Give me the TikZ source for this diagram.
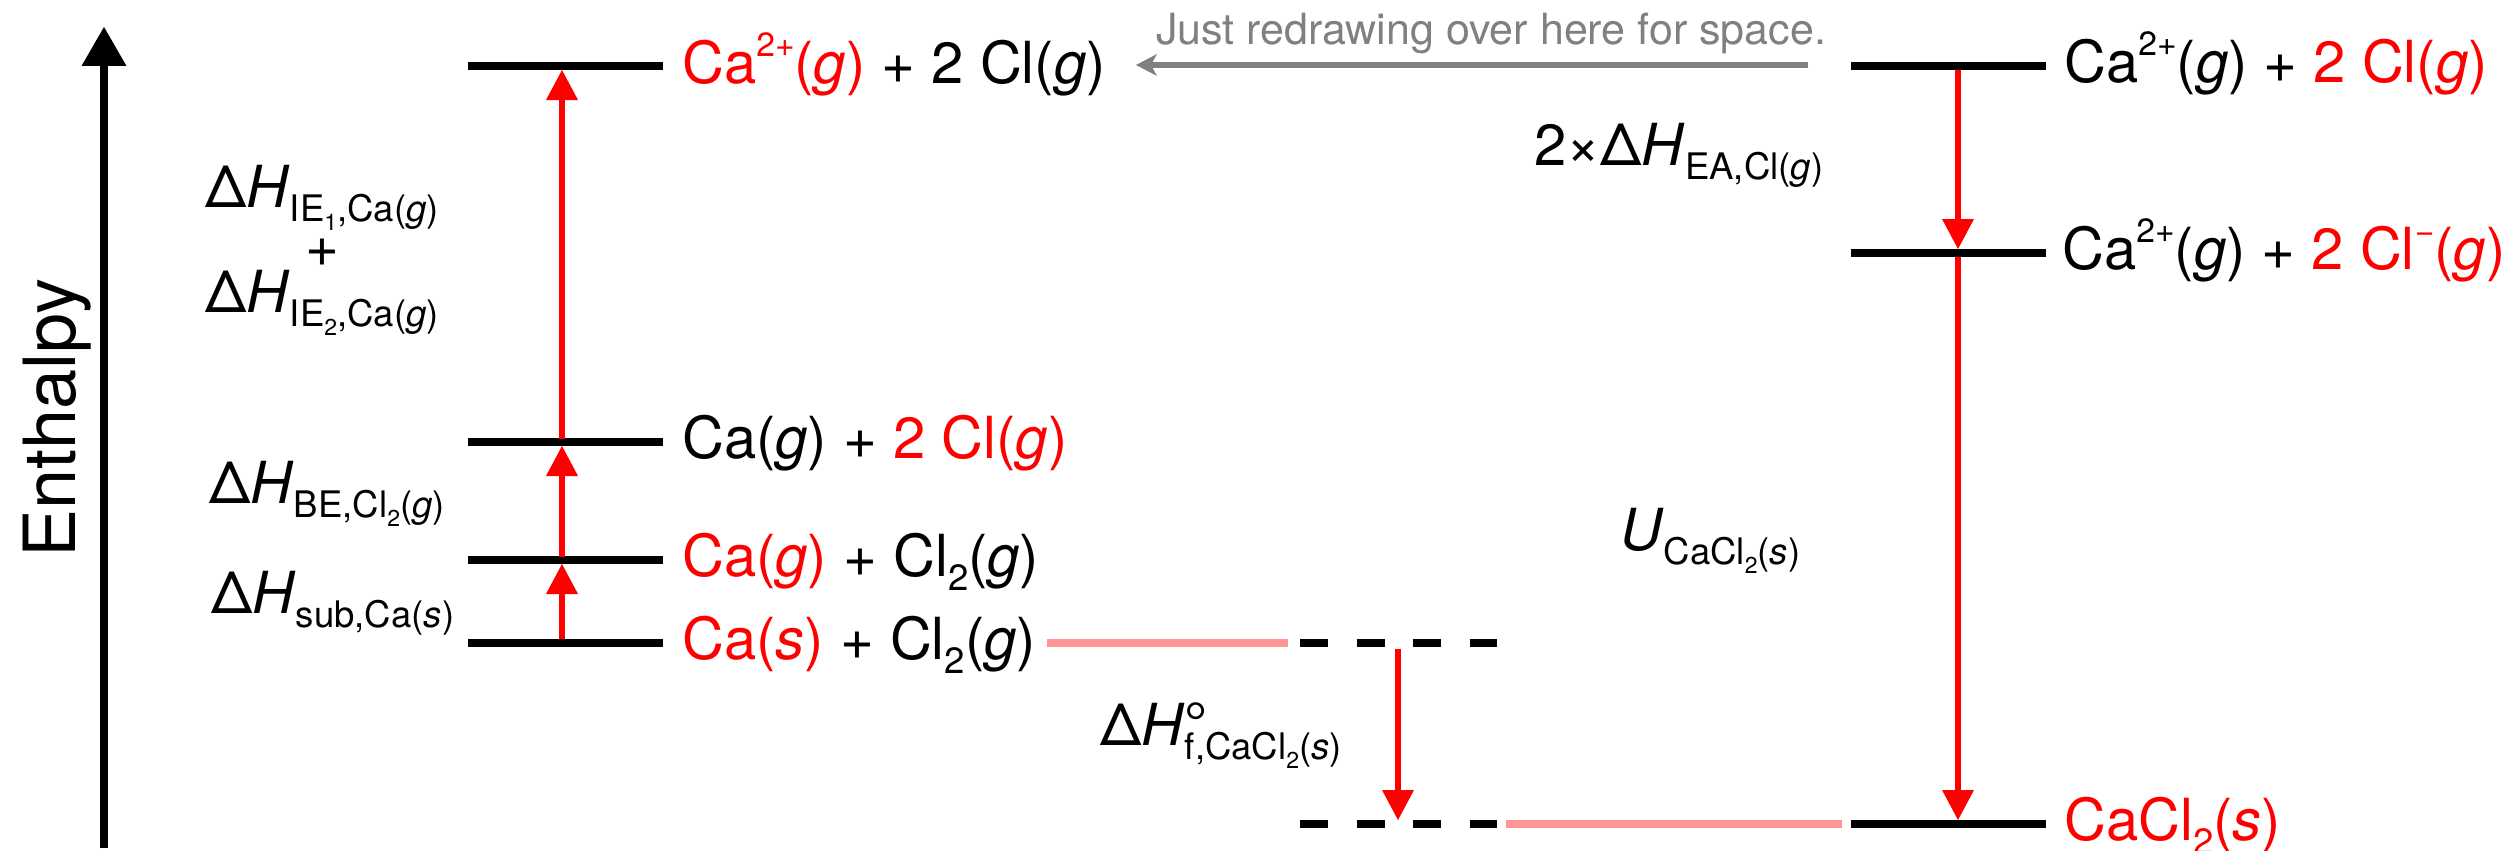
\documentclass[tikz,border=0pt]{standalone}
\usepackage{fontspec}
\setmainfont{TeX Gyre Heros}
\usepackage{graphicx}
\usetikzlibrary{arrows.meta}
\definecolor{pinkline}{RGB}{255,150,150}
\definecolor{grayarrow}{RGB}{128,128,128}
\definecolor{chemred}{RGB}{255,0,0}
\newcommand{\Sp}[1]{\raisebox{0.45em}{\scalebox{0.58}{#1}}}
\newcommand{\Sb}[1]{\raisebox{-0.25em}{\scalebox{0.63}{#1}}}
\newcommand{\R}[1]{\textcolor{chemred}{#1}}
\newcommand{\gi}{\textit{g}}
\begin{document}
\begin{tikzpicture}[x=1pt,y=-1pt,
  lvl/.style={line width=8pt},
  pinklvl/.style={line width=8pt, draw=pinkline},
  dashlvl/.style={line width=8pt, dash pattern=on 28pt off 28.5pt},
  rarrow/.style={draw=chemred, line width=5.5pt, -{Triangle[length=30pt,width=32pt,line width=0pt]}},
  lbl/.style={anchor=base west, inner sep=0pt, font=\fontsize{58}{60}\selectfont},
  graytext/.style={anchor=base west, inner sep=0pt, text=grayarrow, font=\fontsize{43}{45}\selectfont}]
\useasboundingbox (0,0) rectangle (2519,851);

% axis
\coordinate (axB) at (104,848);
\coordinate (axT) at (104,27);
\draw[line width=8pt,-{Triangle[length=39pt,width=45pt,line width=0pt]}] (axB) -- (axT);
\node[anchor=base, inner sep=0pt, rotate=90, font=\fontsize{72}{74}\selectfont] (enth) at (75,418) {Enthalpy};

% left levels
\draw[lvl] (468,66) -- (663,66);
\draw[lvl] (468,442) -- (663,442);
\draw[lvl] (468,560) -- (663,560);
\draw[lvl] (468,643) -- (663,643);

% right levels
\draw[lvl] (1851,66) -- (2046,66);
\draw[lvl] (1851,253) -- (2046,253);
\draw[lvl] (1851,824) -- (2046,824);

% pink and dashed
\draw[pinklvl] (1047,643) -- (1288,643);
\draw[dashlvl] (1300,643) -- (1497,643);
\draw[dashlvl] (1300,824) -- (1497,824);
\draw[pinklvl] (1506,824) -- (1842,824);

% arrow coordinates
\coordinate (s0) at (562,639);
\coordinate (s1) at (562,564);
\coordinate (b0) at (562,557);
\coordinate (b1) at (562,446);
\coordinate (i0) at (562,439);
\coordinate (i1) at (562,70);
\coordinate (e0) at (1958,70);
\coordinate (e1) at (1958,249);
\coordinate (u0) at (1958,257);
\coordinate (u1) at (1958,820);
\coordinate (f0) at (1398,649);
\coordinate (f1) at (1398,820);
\draw[rarrow] (s0) -- (s1);
\draw[rarrow] (b0) -- (b1);
\draw[rarrow] (i0) -- (i1);
\draw[rarrow] (e0) -- (e1);
\draw[rarrow] (u0) -- (u1);
\draw[rarrow] (f0) -- (f1);

% gray arrow
\coordinate (g0) at (1808,65);
\coordinate (g1) at (1136,65);
\draw[draw=grayarrow, line width=6pt, -{Stealth[length=21pt,width=22pt,inset=6pt,line width=0pt]}] (g0) -- (g1);
\node[graytext] (note) at (1156,45) {Just redrawing over here for space.};

% level labels
\node[lbl] (lt) at (682,83) {\R{Ca\Sp{2+}(\gi)} + 2 Cl(\gi)};
\node[lbl] (l2) at (682,458) {Ca(\gi) + \R{2 Cl(\gi)}};
\node[lbl] (l3) at (682,576) {\R{Ca(\gi)} + Cl\Sb{2}(\gi)};
\node[lbl] (l4) at (682,659) {\R{Ca(\textit{s})} + Cl\Sb{2}(\gi)};
\node[lbl] (rt) at (2064,82) {Ca\Sp{2+}(\gi) + \R{2 Cl(\gi)}};
\node[lbl] (r2) at (2062,269) {Ca\Sp{2+}(\gi) + \R{2 Cl\Sp{−}(\gi)}};
\node[lbl] (rb) at (2064,840) {\R{CaCl\Sb{2}(\textit{s})}};

% enthalpy change labels
\node[lbl] (ie1) at (205,207) {Δ\textit{H}\Sb{IE\Sb{1},Ca(\gi)}};
\node[anchor=center, inner sep=0pt, font=\fontsize{58}{60}\selectfont] (iep) at (322,253) {+};
\node[lbl] (ie2) at (205,312) {Δ\textit{H}\Sb{IE\Sb{2},Ca(\gi)}};
\node[lbl] (be) at (209,503) {Δ\textit{H}\Sb{BE,Cl\Sb{2}(\gi)}};
\node[lbl] (sb) at (211,613) {Δ\textit{H}\Sb{sub,Ca(\textit{s})}};
\node[lbl] (ea) at (1534,165) {2×Δ\textit{H}\Sb{EA,Cl(\gi)}};
\node[lbl] (uu) at (1620,550) {\textit{U}\Sb{CaCl\Sb{2}(\textit{s})}};
\node[lbl] (hf) at (1100,745) {Δ\textit{H}\rlap{\raisebox{0.02em}{°}}\Sb{f,CaCl\Sb{2}(\textit{s})}};
\end{tikzpicture}
\end{document}
